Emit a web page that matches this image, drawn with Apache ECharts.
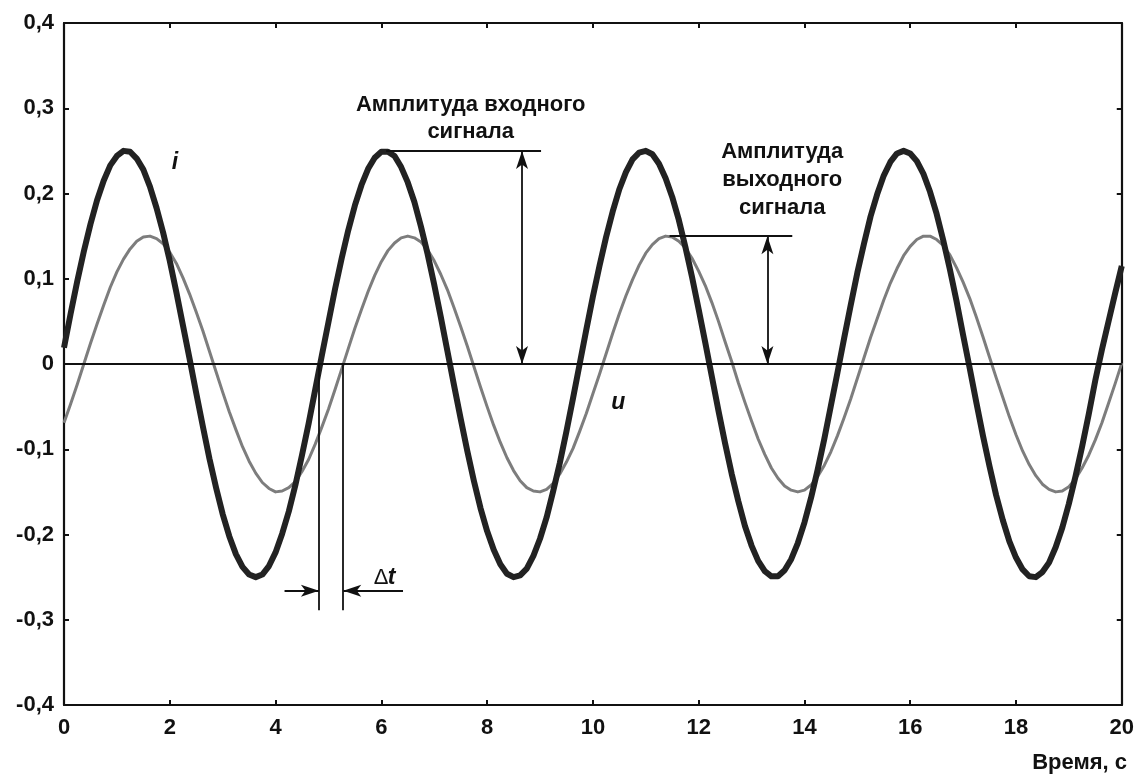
<!DOCTYPE html>
<html><head><meta charset="utf-8">
<script src="https://cdn.jsdelivr.net/npm/echarts@6/dist/echarts.min.js"></script>
<style>html,body{margin:0;padding:0;background:#fff}#c{width:1137px;height:776px}</style>
</head><body><div id="c"></div>
<script>
const time = [
0,0.125,0.25,0.375,0.5,0.625,0.75,0.875,1,1.125,1.25,1.375,1.5,1.625,1.75,1.875,2,2.125,2.25,2.375,
2.5,2.625,2.75,2.875,3,3.125,3.25,3.375,3.5,3.625,3.75,3.875,4,4.125,4.25,4.375,4.5,4.625,4.75,4.875,
5,5.125,5.25,5.375,5.5,5.625,5.75,5.875,6,6.125,6.25,6.375,6.5,6.625,6.75,6.875,7,7.125,7.25,7.375,
7.5,7.625,7.75,7.875,8,8.125,8.25,8.375,8.5,8.625,8.75,8.875,9,9.125,9.25,9.375,9.5,9.625,9.75,9.875,
10,10.125,10.25,10.375,10.5,10.625,10.75,10.875,11,11.125,11.25,11.375,11.5,11.625,11.75,11.875,12,12.125,12.25,12.375,
12.5,12.625,12.75,12.875,13,13.125,13.25,13.375,13.5,13.625,13.75,13.875,14,14.125,14.25,14.375,14.5,14.625,14.75,14.875,
15,15.125,15.25,15.375,15.5,15.625,15.75,15.875,16,16.125,16.25,16.375,16.5,16.625,16.75,16.875,17,17.125,17.25,17.375,
17.5,17.625,17.75,17.875,18,18.125,18.25,18.375,18.5,18.625,18.75,18.875,19,19.125,19.25,19.375,19.5,19.625,19.75,19.875,20];
const iValues = [
0.019,0.059,0.097,0.132,0.164,0.192,0.215,0.233,0.244,0.250,0.249,0.241,0.228,0.208,0.183,0.154,0.121,0.084,0.045,0.006,
-0.034,-0.073,-0.111,-0.145,-0.176,-0.202,-0.223,-0.238,-0.247,-0.250,-0.247,-0.237,-0.221,-0.199,-0.173,-0.142,-0.107,-0.070,-0.030,0.010,
0.049,0.088,0.124,0.157,0.186,0.210,0.229,0.242,0.249,0.249,0.244,0.231,0.213,0.190,0.161,0.129,0.093,0.055,0.015,-0.025,
-0.064,-0.102,-0.137,-0.169,-0.196,-0.218,-0.235,-0.246,-0.250,-0.248,-0.240,-0.225,-0.205,-0.180,-0.149,-0.116,-0.079,-0.040,0.000,0.040,
0.079,0.115,0.149,0.179,0.205,0.225,0.240,0.248,0.250,0.246,0.235,0.218,0.196,0.169,0.137,0.102,0.064,0.025,-0.015,-0.055,
-0.093,-0.129,-0.161,-0.190,-0.213,-0.231,-0.243,-0.249,-0.249,-0.242,-0.229,-0.210,-0.186,-0.157,-0.124,-0.088,-0.049,-0.010,0.030,0.069,
0.107,0.141,0.173,0.199,0.221,0.237,0.247,0.250,0.247,0.238,0.223,0.202,0.176,0.145,0.111,0.074,0.034,-0.005,-0.045,-0.084,
-0.120,-0.154,-0.183,-0.208,-0.227,-0.241,-0.249,-0.250,-0.244,-0.233,-0.215,-0.192,-0.164,-0.132,-0.097,-0.059,-0.019,0.017,0.050,0.083,0.115];
const uValues = [
-0.069,-0.047,-0.024,0.000,0.024,0.047,0.069,0.090,0.108,0.123,0.135,0.144,0.149,0.150,0.147,0.141,0.131,0.118,0.101,0.082,
0.061,0.039,0.015,-0.009,-0.033,-0.056,-0.077,-0.097,-0.114,-0.128,-0.139,-0.146,-0.150,-0.149,-0.145,-0.138,-0.126,-0.112,-0.094,-0.074,
-0.053,-0.030,-0.006,0.018,0.042,0.064,0.085,0.104,0.120,0.133,0.142,0.148,0.150,0.148,0.143,0.134,0.121,0.105,0.087,0.066,
0.044,0.021,-0.003,-0.027,-0.050,-0.072,-0.092,-0.110,-0.125,-0.137,-0.145,-0.149,-0.150,-0.147,-0.140,-0.129,-0.115,-0.099,-0.079,-0.058,
-0.035,-0.012,0.012,0.036,0.059,0.080,0.099,0.116,0.130,0.140,0.147,0.150,0.149,0.144,0.136,0.124,0.109,0.092,0.072,0.050,
0.026,0.003,-0.022,-0.045,-0.067,-0.088,-0.106,-0.122,-0.134,-0.143,-0.148,-0.150,-0.148,-0.142,-0.132,-0.119,-0.103,-0.084,-0.063,-0.041,
-0.017,0.007,0.031,0.053,0.075,0.095,0.112,0.127,0.138,0.146,0.150,0.150,0.146,0.139,0.128,0.113,0.096,0.077,0.055,0.032,
0.008,-0.016,-0.039,-0.062,-0.083,-0.102,-0.118,-0.131,-0.141,-0.147,-0.150,-0.149,-0.144,-0.135,-0.122,-0.107,-0.089,-0.069,-0.046,-0.023,0.001];
const xTicks = [0,2,4,6,8,10,12,14,16,18,20];
const yTicks = [-0.4,-0.3,-0.2,-0.1,0,0.1,0.2,0.3,0.4];

const FONT = '"Liberation Sans", Arial, sans-serif';
const chart = echarts.init(document.getElementById('c'));
const fmtY = v => { const r = Math.round(v*10)/10; return r === 0 ? '0' : r.toFixed(1).replace('.', ','); };
const mkAxisLine = () => ({show: true, onZero: false, lineStyle: {color: '#111', width: 2.2}});
const mkTick = () => ({show: true, inside: true, length: 5, lineStyle: {color: '#111', width: 2}});
const iData = time.map((t, k) => [t, iValues[k]]);
const uData = time.map((t, k) => [t, uValues[k]]);
const AS = [9, 18];

chart.setOption({
  animation: false,
  backgroundColor: '#fff',
  grid: {left: 64, right: 14, top: 23, bottom: 71},
  xAxis: [
    {type: 'value', position: 'bottom', min: xTicks[0], max: xTicks[xTicks.length-1], interval: 2,
      axisLine: mkAxisLine(), axisTick: mkTick(), splitLine: {show: false},
      axisLabel: {color: '#111', fontSize: 22, fontWeight: 'bold', fontFamily: FONT, margin: 12}},
    {type: 'value', position: 'top', min: xTicks[0], max: xTicks[xTicks.length-1], interval: 2,
      axisLine: mkAxisLine(), axisTick: mkTick(), splitLine: {show: false}, axisLabel: {show: false}}
  ],
  yAxis: [
    {type: 'value', position: 'left', min: yTicks[0], max: yTicks[yTicks.length-1], interval: 0.1,
      axisLine: mkAxisLine(), axisTick: mkTick(), splitLine: {show: false},
      axisLabel: {color: '#111', fontSize: 22, fontWeight: 'bold', fontFamily: FONT, margin: 10, formatter: fmtY}},
    {type: 'value', position: 'right', min: yTicks[0], max: yTicks[yTicks.length-1], interval: 0.1,
      axisLine: mkAxisLine(), axisTick: mkTick(), splitLine: {show: false}, axisLabel: {show: false}}
  ],
  series: [
    {
      name: 'u', type: 'line', data: uData, smooth: false, showSymbol: false,
      lineStyle: {color: '#7d7d7d', width: 3, join: 'round'}, z: 3
    },
    {
      name: 'i', type: 'line', data: iData, smooth: false, showSymbol: false,
      lineStyle: {color: '#222', width: 6, join: 'round'}, z: 4,
      markLine: {
        silent: true, symbol: 'none', animation: false,
        label: {show: false},
        lineStyle: {color: '#111', width: 1.8, type: 'solid'},
        data: [
          [{coord: [0, 0]}, {coord: [20, 0]}],
          [{coord: [4.82, 0]}, {coord: [4.82, -0.289]}],
          [{coord: [5.28, 0]}, {coord: [5.28, -0.289]}],
          [{coord: [6.09, 0.25]}, {coord: [9.02, 0.25]}],
          [{coord: [11.45, 0.15]}, {coord: [13.77, 0.15]}],
          [{coord: [8.66, 0.25], symbol: 'arrow', symbolSize: AS}, {coord: [8.66, 0], symbol: 'arrow', symbolSize: AS}],
          [{coord: [13.3, 0.15], symbol: 'arrow', symbolSize: AS}, {coord: [13.3, 0], symbol: 'arrow', symbolSize: AS}],
          [{coord: [4.17, -0.266], symbol: 'none'}, {coord: [4.82, -0.266], symbol: 'arrow', symbolSize: AS}],
          [{coord: [6.41, -0.266], symbol: 'none'}, {coord: [5.28, -0.266], symbol: 'arrow', symbolSize: AS}]
        ]
      }
    }
  ]
});

const labels = [
  {x: 7.69, y: 0.304, text: 'Амплитуда входного', style: 'normal', weight: 'bold', size: 22},
  {x: 7.69, y: 0.272, text: 'сигнала', style: 'normal', weight: 'bold', size: 22},
  {x: 13.58, y: 0.249, text: 'Амплитуда', style: 'normal', weight: 'bold', size: 22},
  {x: 13.58, y: 0.216, text: 'выходного', style: 'normal', weight: 'bold', size: 22},
  {x: 13.58, y: 0.183, text: 'сигнала', style: 'normal', weight: 'bold', size: 22},
  {x: 2.10, y: 0.236, text: 'i', style: 'italic', weight: 'bold', size: 23},
  {x: 10.48, y: -0.045, text: 'u', style: 'italic', weight: 'bold', size: 23}
];
const g = labels.map(l => {
  const p = chart.convertToPixel({xAxisIndex: 0, yAxisIndex: 0}, [l.x, l.y]);
  return {type: 'text', x: p[0], y: p[1], silent: true,
    style: {text: l.text, fill: '#111', font: l.style + ' ' + l.weight + ' ' + l.size + 'px ' + FONT,
      textAlign: 'center', textVerticalAlign: 'middle'}};
});
const dp = chart.convertToPixel({xAxisIndex: 0, yAxisIndex: 0}, [6.12, -0.251]);
g.push({type: 'text', x: dp[0] - 14, y: dp[1], silent: true,
  style: {text: 'Δ', fill: '#111', font: 'normal 22px ' + FONT, textAlign: 'left', textVerticalAlign: 'middle'}});
g.push({type: 'text', x: dp[0], y: dp[1], silent: true,
  style: {text: 't', fill: '#111', font: 'italic bold 23px ' + FONT, textAlign: 'left', textVerticalAlign: 'middle'}});
g.push({type: 'text', right: 10, top: 752, silent: true,
  style: {text: 'Время, с', fill: '#111', font: 'bold 22px ' + FONT}});
chart.setOption({graphic: g});
</script></body></html>
